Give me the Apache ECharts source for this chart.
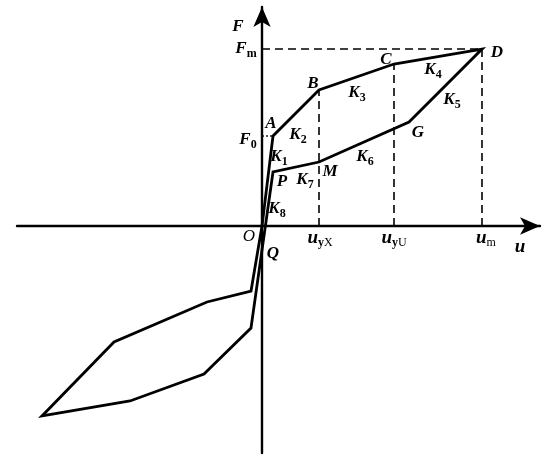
<!DOCTYPE html>
<html>
<head>
<meta charset="utf-8">
<script src="https://cdn.jsdelivr.net/npm/echarts@6/dist/echarts.min.js"></script>
<style>
html, body { margin: 0; padding: 0; background: #fff; }
#main { width: 550px; height: 469px; }
</style>
</head>
<body>
<div id="main"></div>
<script>
// 滞回环各折点 (u, F)
var loopU = [0, 11, 57, 132, 220, 147, 57, 11, -11, -58, -132, -220, -148, -55, -11, 0];
var loopF = [0, 90, 136, 162, 177, 104, 64, 54, -102, -148, -175, -190, -116, -76, -65, 0];
// 特征位移 u_yX, u_yU, u_m 和对应力
var uMarks = [57, 132, 220];
var uMarkF = [136, 162, 177];
// F0, Fm
var F0 = 90, Fm = 177, uA = 11, uD = 220;

// 文字标注
var labelText = ['{i|F}', '{i|F}{s|m}', '{i|F}{s|0}', '{i|A}', '{i|B}', '{i|C}', '{i|D}',
    '{i|K}{s|1}', '{i|K}{s|2}', '{i|K}{s|3}', '{i|K}{s|4}', '{i|K}{s|5}', '{i|K}{s|6}', '{i|K}{s|7}', '{i|K}{s|8}',
    '{i|G}', '{i|M}', '{i|P}', '{o|O}', '{i|Q}',
    '{u|u}{s|y}{r|X}', '{u|u}{s|y}{r|U}', '{u|u}{r|m}', '{u|u}'];
var labelU = [-24, -16, -14, 9, 51, 124, 235, 17, 36, 95, 171, 190, 103, 43, 15, 156, 68, 20, -13, 11, 58, 132, 224, 258];
var labelF = [199, 177, 86, 102, 142, 166, 173, 69, 91, 133, 156, 126, 69, 46, 17, 93, 54, 44, -11, -28, -12, -12, -12, -21];

var myChart = echarts.init(document.getElementById('main'));

function seg(a, b) { return [a, b]; }

var series = [];
// 主曲线
series.push({
    type: 'line',
    data: loopU.map(function (u, i) { return [u, loopF[i]]; }),
    symbol: 'none',
    lineStyle: { color: '#000', width: 2.8, join: 'miter' },
    z: 5
});
// 虚线
var dashStyle = { color: '#000', width: 1.6, type: [8, 5] };
series.push({
    type: 'line', symbol: 'none', lineStyle: dashStyle,
    data: seg([0, Fm], [uD, Fm])
});
uMarks.forEach(function (u, i) {
    series.push({
        type: 'line', symbol: 'none', lineStyle: dashStyle,
        data: seg([u, 0], [u, uMarkF[i]])
    });
});
series.push({
    type: 'line', symbol: 'none', lineStyle: { color: '#000', width: 1.3, type: [2, 2] },
    data: seg([0, F0], [uA, F0])
});
// 标注文字
series.push({
    type: 'scatter',
    symbolSize: 0,
    silent: true,
    itemStyle: { opacity: 1 },
    data: labelU.map(function (u, i) { return [u, labelF[i], labelText[i]]; }),
    label: {
        show: true,
        position: 'inside',
        formatter: function (p) { return p.value[2]; },
        rich: {
            i: { fontFamily: 'Liberation Serif', fontStyle: 'italic', fontWeight: 'bold', fontSize: 17, color: '#000', lineHeight: 20 },
            o: { fontFamily: 'Liberation Serif', fontStyle: 'italic', fontSize: 17, color: '#000', lineHeight: 20 },
            u: { fontFamily: 'Liberation Serif', fontStyle: 'italic', fontWeight: 'bold', fontSize: 19, color: '#000', lineHeight: 20 },
            s: { fontFamily: 'Liberation Serif', fontWeight: 'bold', fontSize: 12, color: '#000', lineHeight: 12, padding: [9, 0, 0, 0] },
            r: { fontFamily: 'Liberation Serif', fontSize: 12, color: '#000', lineHeight: 12, padding: [9, 0, 0, 0] }
        }
    },
    z: 10
});

var axisCommon = {
    type: 'value',
    axisLine: {
        show: true, onZero: true,
        symbol: ['none', 'arrow'], symbolSize: [13, 20],
        lineStyle: { color: '#000', width: 2.4 }
    },
    axisTick: { show: false },
    axisLabel: { show: false },
    splitLine: { show: false }
};

var option = {
    animation: false,
    backgroundColor: '#fff',
    grid: { left: 17, right: 10, top: 7, bottom: 16 },
    xAxis: Object.assign({}, axisCommon, { min: -245, max: 278 }),
    yAxis: Object.assign({}, axisCommon, { min: -227, max: 219 }),
    series: series
};

myChart.setOption(option);
</script>
</body>
</html>
